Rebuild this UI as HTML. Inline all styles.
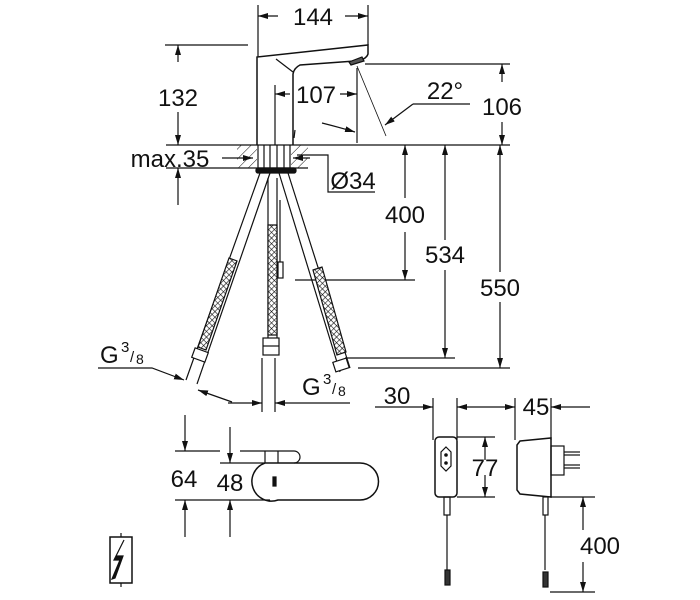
<!DOCTYPE html>
<html><head><meta charset="utf-8"><style>
html,body{margin:0;padding:0;background:#fff;width:700px;height:600px;overflow:hidden}
svg{display:block}
text{font-family:"Liberation Sans",sans-serif;fill:#111}
</style></head><body>
<svg width="700" height="600" viewBox="0 0 700 600" xmlns="http://www.w3.org/2000/svg">
<defs>
<marker id="a" viewBox="0 0 10 6" refX="10" refY="3" markerWidth="10" markerHeight="6" orient="auto-start-reverse" markerUnits="userSpaceOnUse"><path d="M0,0L10,3L0,6z" fill="#111"/></marker>
<pattern id="h" width="7" height="7" patternUnits="userSpaceOnUse" patternTransform="rotate(45)"><line x1="0" y1="0" x2="0" y2="7" stroke="#111" stroke-width="1"/></pattern>
<pattern id="x" width="4" height="4" patternUnits="userSpaceOnUse" patternTransform="rotate(45)"><rect width="4" height="4" fill="#fff"/><line x1="0" y1="0" x2="0" y2="4" stroke="#111" stroke-width="1.2"/><line x1="0" y1="0" x2="4" y2="0" stroke="#111" stroke-width="1.2"/></pattern>
</defs>
<g stroke="#111" stroke-width="1.2" fill="none">
<!-- 144 -->
<line x1="258" y1="5" x2="258" y2="57"/><line x1="368" y1="5" x2="368" y2="45"/>
<line x1="278" y1="16" x2="258" y2="16" marker-end="url(#a)"/><line x1="345" y1="16" x2="368" y2="16" marker-end="url(#a)"/>
<!-- faucet -->
<path d="M257,145 L257,57 L368,45 L368,54 Q366,60 355,61 L300,65 Q294,68 293,74 L293,145" stroke-width="1.5"/>
<path d="M276,59 L293,72"/>
<path d="M349,62 L362,57 L364,61 L351,65 Z" fill="#555"/>
<line x1="165" y1="45" x2="248" y2="45"/>
<!-- 132 -->
<line x1="178" y1="62" x2="178" y2="45" marker-end="url(#a)"/>
<line x1="178" y1="112" x2="178" y2="145" marker-end="url(#a)"/>
<!-- countertop -->
<rect x="237" y="145" width="20" height="23" fill="url(#h)" stroke="none"/>
<rect x="291" y="145" width="17" height="23" fill="url(#h)" stroke="none"/>
<line x1="237" y1="145" x2="510" y2="145"/>
<line x1="166" y1="168" x2="308" y2="168"/>
<line x1="166" y1="145" x2="237" y2="145"/>
<line x1="258" y1="145" x2="258" y2="168"/><line x1="264" y1="145" x2="264" y2="168"/><line x1="270" y1="145" x2="270" y2="168"/><line x1="277" y1="145" x2="277" y2="168"/><line x1="284" y1="145" x2="284" y2="168"/><line x1="290" y1="145" x2="290" y2="168"/>
<rect x="256" y="168" width="40" height="5" rx="2" fill="#111"/>
<line x1="222" y1="158" x2="253" y2="158" marker-end="url(#a)"/>
<line x1="310" y1="158" x2="293" y2="158" marker-end="url(#a)"/>
<line x1="178" y1="205" x2="178" y2="168" marker-end="url(#a)"/>
<!-- 107 -->
<line x1="275" y1="85" x2="275" y2="145"/><line x1="357" y1="68" x2="357" y2="143"/>
<line x1="290" y1="94" x2="275" y2="94" marker-end="url(#a)"/><line x1="340" y1="94" x2="357" y2="94" marker-end="url(#a)"/>
<line x1="295" y1="130" x2="294" y2="138"/>
<!-- 22 deg -->
<line x1="357" y1="66" x2="386" y2="136" stroke-width="0.8"/>
<line x1="470" y1="104" x2="413" y2="104"/><line x1="413" y1="104" x2="385" y2="125" marker-end="url(#a)"/>
<path d="M322,123 Q338,127 355,132" marker-end="url(#a)"/>
<!-- 106 -->
<line x1="365" y1="64" x2="510" y2="64"/>
<line x1="502" y1="82" x2="502" y2="64" marker-end="url(#a)"/>
<line x1="502" y1="122" x2="502" y2="145" marker-end="url(#a)"/>
<!-- Ø34 -->
<path d="M297,155 L328,155 L328,192 L375,192"/>
<!-- right dims -->
<line x1="405" y1="198" x2="405" y2="145" marker-end="url(#a)"/><line x1="405" y1="232" x2="405" y2="280" marker-end="url(#a)"/>
<line x1="295" y1="280" x2="415" y2="280"/>
<line x1="445" y1="240" x2="445" y2="145" marker-end="url(#a)"/><line x1="445" y1="270" x2="445" y2="358" marker-end="url(#a)"/>
<line x1="345" y1="358" x2="455" y2="358"/>
<line x1="500" y1="272" x2="500" y2="145" marker-end="url(#a)"/><line x1="500" y1="302" x2="500" y2="368" marker-end="url(#a)"/>
<line x1="358" y1="368" x2="510" y2="368"/>
<!-- hoses -->
<path d="M260,173 L186,380 M270,173 L197,384" />
<path d="M268,178 L268,340 M277,178 L277,340"/>
<path d="M279,173 L340,372 M288,173 L350,368"/>
<path d="M229,258 L237,261 L206,350 L198,347Z" fill="url(#x)"/>
<path d="M268,225 L277,225 L277,335 L268,335Z" fill="url(#x)"/>
<path d="M313,270 L322,267 L346,352 L337,355Z" fill="url(#x)"/>
<rect x="263" y="338" width="16" height="17" fill="#fff"/>
<line x1="263" y1="346" x2="279" y2="346"/>
<rect x="193" y="350" width="14" height="10" transform="rotate(20 200 355)" fill="#fff"/>
<rect x="334" y="360" width="14" height="10" transform="rotate(-18 341 365)" fill="#fff"/>
<line x1="280" y1="200" x2="280" y2="275"/><rect x="278" y="262" width="5" height="16" fill="#fff"/>
<!-- G 3/8 -->
<path d="M98,368 L152,368 L184,380" marker-end="url(#a)"/>
<line x1="232" y1="402" x2="198" y2="390" marker-end="url(#a)"/>
<line x1="262" y1="358" x2="262" y2="412"/><line x1="275" y1="358" x2="275" y2="412"/>
<line x1="228" y1="403" x2="262" y2="403" marker-end="url(#a)"/>
<line x1="350" y1="403" x2="275" y2="403" marker-end="url(#a)"/>
<!-- 30 / 45 -->
<line x1="375" y1="407" x2="433" y2="407" marker-end="url(#a)"/>
<line x1="480" y1="407" x2="457" y2="407" marker-end="url(#a)"/>
<line x1="480" y1="407" x2="515" y2="407" marker-end="url(#a)"/>
<line x1="590" y1="407" x2="551" y2="407" marker-end="url(#a)"/>
<line x1="433" y1="398" x2="433" y2="440"/><line x1="457" y1="398" x2="457" y2="440"/>
<line x1="515" y1="398" x2="515" y2="440"/><line x1="551" y1="398" x2="551" y2="440"/>
<!-- adapter front -->
<rect x="435" y="437" width="22" height="60" rx="4" stroke-width="1.5"/>
<path d="M446,447 L451,452 L451,466 L446,471 L441,466 L441,452Z"/>
<circle cx="446" cy="455" r="1.2" fill="#111"/><circle cx="446" cy="463" r="1.2" fill="#111"/>
<line x1="457" y1="437" x2="495" y2="437"/><line x1="457" y1="497" x2="495" y2="497"/>
<line x1="485" y1="460" x2="485" y2="437" marker-end="url(#a)"/><line x1="485" y1="475" x2="485" y2="497" marker-end="url(#a)"/>
<rect x="444" y="497" width="6" height="18"/><line x1="447" y1="515" x2="447" y2="570"/>
<rect x="445" y="570" width="5" height="15" fill="#333"/>
<!-- adapter side -->
<path d="M520,441 L551,438 L551,497 L520,494 L517,490 L517,445Z" stroke-width="1.5"/>
<rect x="551" y="446" width="13" height="29"/>
<line x1="564" y1="452" x2="580" y2="452"/><line x1="564" y1="455" x2="580" y2="455"/>
<line x1="564" y1="465" x2="580" y2="465"/><line x1="564" y1="468" x2="580" y2="468"/>
<rect x="543" y="497" width="5" height="18"/><line x1="545" y1="515" x2="545" y2="570"/>
<rect x="543" y="572" width="5" height="15" fill="#333"/>
<line x1="550" y1="497" x2="595" y2="497"/><line x1="550" y1="592" x2="595" y2="592"/>
<line x1="583" y1="530" x2="583" y2="497" marker-end="url(#a)"/><line x1="583" y1="562" x2="583" y2="592" marker-end="url(#a)"/>
<!-- 64 / 48 -->
<line x1="185" y1="415" x2="185" y2="451" marker-end="url(#a)"/>
<line x1="185" y1="537" x2="185" y2="500" marker-end="url(#a)"/>
<line x1="230" y1="427" x2="230" y2="463" marker-end="url(#a)"/>
<line x1="230" y1="537" x2="230" y2="500" marker-end="url(#a)"/>
<line x1="175" y1="451" x2="220" y2="451"/><line x1="240" y1="451" x2="265" y2="451"/>
<line x1="220" y1="463" x2="265" y2="463"/>
<line x1="175" y1="500" x2="270" y2="500"/>
<path d="M265,463 L360,463 A18.5,18.5 0 0 1 360,500 L278,500 A18.5,18.5 0 0 1 265,463Z" stroke-width="1.5"/>
<path d="M265,451 L294,451 A6,6 0 0 1 294,463 M265,451 L265,463 M278,451 L278,463"/>
<path d="M273,477 L276,477 L276,486 L273,486Z" fill="#111"/>
<!-- icon -->
<rect x="110" y="537" width="22" height="46" stroke-width="1.5"/>
<line x1="121" y1="533" x2="121" y2="537"/><line x1="121" y1="583" x2="121" y2="587"/>
<path d="M124,540 L116,556 L123,556 L115,578 L112,579 L120,560 L114,560 Z" fill="#111"/>
</g>
<g font-size="24">
<text x="313" y="25" text-anchor="middle">144</text>
<text x="178" y="106" text-anchor="middle">132</text>
<text x="316" y="103" text-anchor="middle">107</text>
<text x="445" y="99" text-anchor="middle">22°</text>
<text x="502" y="115" text-anchor="middle">106</text>
<text x="170" y="167" text-anchor="middle">max.35</text>
<text x="353" y="189" text-anchor="middle">Ø34</text>
<text x="405" y="223" text-anchor="middle">400</text>
<text x="445" y="263" text-anchor="middle">534</text>
<text x="500" y="296" text-anchor="middle">550</text>
<text x="100" y="363">G</text><text x="121" y="352" font-size="15">3</text><text x="130" y="362" font-size="15">/</text><text x="136" y="364" font-size="14">8</text>
<text x="302" y="395">G</text><text x="323" y="384" font-size="15">3</text><text x="332" y="394" font-size="15">/</text><text x="338" y="396" font-size="14">8</text>
<text x="397" y="404" text-anchor="middle">30</text>
<text x="536" y="415" text-anchor="middle">45</text>
<text x="485" y="476" text-anchor="middle">77</text>
<text x="600" y="554" text-anchor="middle">400</text>
<text x="184" y="487" text-anchor="middle">64</text>
<text x="230" y="491" text-anchor="middle">48</text>
</g>
</svg>
</body></html>
